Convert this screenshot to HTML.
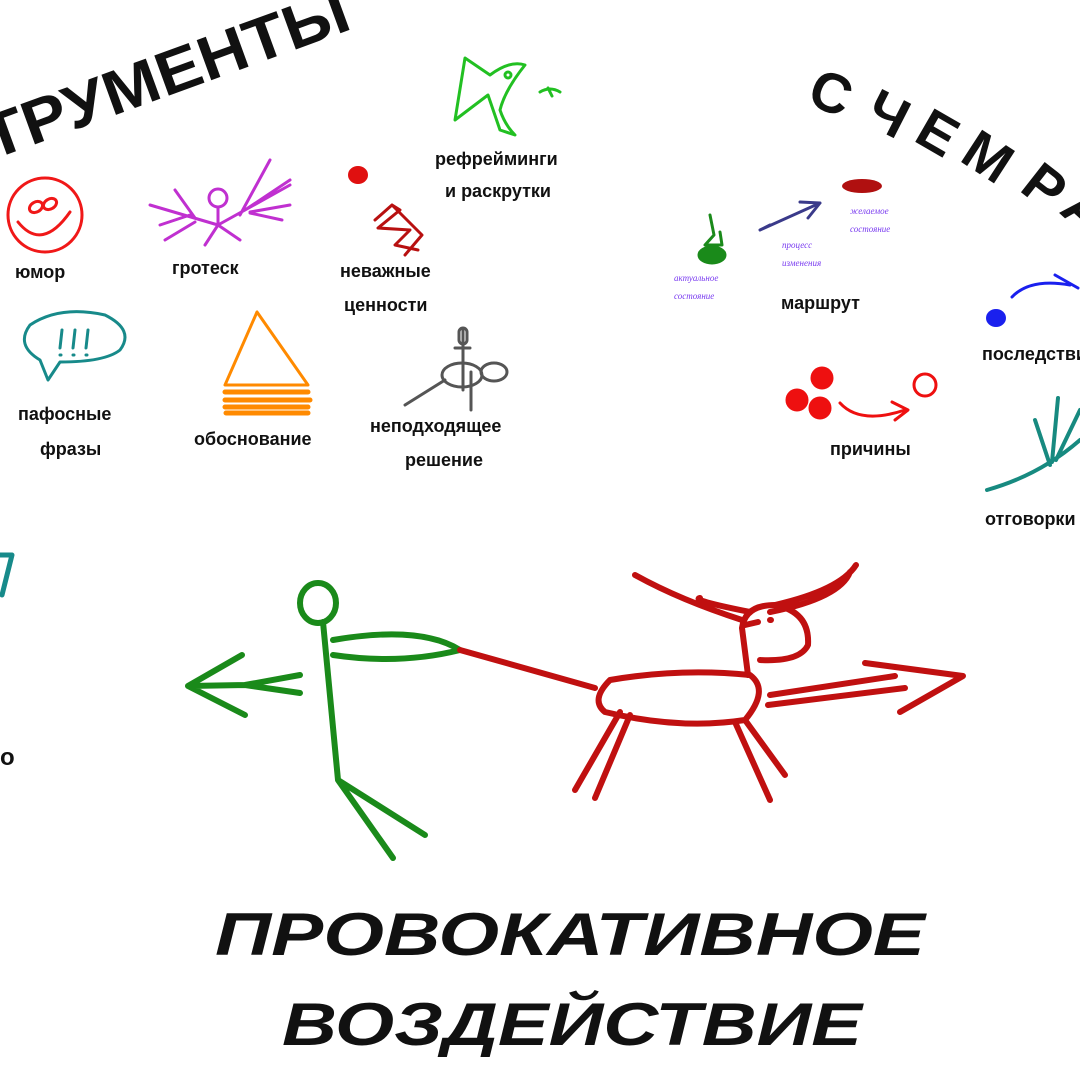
<!DOCTYPE html>
<html><head><meta charset="utf-8"><style>
html,body{margin:0;padding:0;background:#fff;}
svg{display:block}
text{font-family:"Liberation Sans","DejaVu Sans",sans-serif;font-weight:bold;fill:#111}
.l{font-size:18px}
.big{font-size:60px;font-style:italic;font-family:"Liberation Sans",sans-serif;font-weight:900}
.ttl{font-size:62px;font-weight:900}
.sm{font-size:9px;font-style:italic;fill:#7a3cf0;font-family:"Liberation Serif",serif;font-weight:normal}
</style></head><body>
<svg width="1080" height="1080" viewBox="0 0 1080 1080" xmlns="http://www.w3.org/2000/svg" fill="none" stroke-linecap="round" stroke-linejoin="round">
<text class="ttl" transform="translate(-8,160) rotate(-20)" textLength="385" lengthAdjust="spacingAndGlyphs">ТРУМЕНТЫ</text>
<g class="ttl" style="font-size:56px">
<text transform="translate(805,103) rotate(22)">С</text>
<text transform="translate(862,122) rotate(27)">Ч</text>
<text transform="translate(912,140) rotate(30)">Е</text>
<text transform="translate(958,160) rotate(33)">М</text>
<text transform="translate(1018,190) rotate(38)">Р</text>
<text transform="translate(1058,212) rotate(42)">А</text>
</g>
<g stroke="#f01818" stroke-width="3">
<circle cx="45" cy="215" r="37"/>
<ellipse cx="36" cy="207" rx="7" ry="5" transform="rotate(-30 36 207)"/>
<ellipse cx="50" cy="204" rx="7" ry="5" transform="rotate(-30 50 204)"/>
<path d="M18 222 Q42 252 70 212"/>
</g>
<text class="l" x="15" y="278">юмор</text>
<g stroke="#c030d0" stroke-width="3">
<circle cx="218" cy="198" r="9"/>
<path d="M218 207 V225 M150 205 L218 225 L290 185 M160 225 L190 215 M175 190 L195 218 M165 240 L195 222 M270 160 L240 215 M290 180 L245 210 M290 205 L250 212 M282 220 L250 213 M218 225 L205 245 M218 225 L240 240"/>
</g>
<text class="l" x="172" y="274">гротеск</text>
<g stroke="#e01010" stroke-width="4"><ellipse cx="358" cy="175" rx="8" ry="7" fill="#e01010"/></g>
<g stroke="#b81010" stroke-width="3"><path d="M375 220 L392 205 L400 210 L378 228 L410 230 L395 245 L418 250 M392 205 L422 235 L405 255"/></g>
<text class="l" x="340" y="277">неважные</text>
<text class="l" x="344" y="311">ценности</text>
<g stroke="#22c022" stroke-width="3">
<path d="M455 120 L465 58 L490 75 Q510 60 525 65 Q505 90 500 110 Q505 125 515 135 L500 130 L488 95 Z"/>
<circle cx="508" cy="75" r="3"/>
<path d="M540 92 Q550 86 560 92 M548 88 L552 96"/>
</g>
<text class="l" x="435" y="165">рефрейминги</text>
<text class="l" x="445" y="197">и раскрутки</text>
<g stroke="#178a8a" stroke-width="3">
<path d="M40 360 Q15 345 30 325 Q60 305 105 315 Q135 330 120 350 Q105 362 60 362 L48 380 Z"/>
<path d="M62 330 L60 348 M75 330 L73 348 M88 330 L86 348"/><path d="M60 355h1M73 355h1M86 355h1"/>
</g>
<text class="l" x="18" y="420">пафосные</text>
<text class="l" x="40" y="455">фразы</text>
<g stroke="#ff8a00" stroke-width="3"><path d="M257 312 L225 385 L308 385 Z"/></g>
<g stroke="#ff8a00" stroke-width="5"><path d="M225 392 H308 M225 400 H310 M225 407 H308 M226 413 H308"/></g>
<text class="l" x="194" y="445">обоснование</text>
<g stroke="#555" stroke-width="3">
<ellipse cx="462" cy="375" rx="20" ry="12"/><ellipse cx="494" cy="372" rx="13" ry="9"/>
<path d="M463 330 V390 M455 348 H470 M445 380 L405 405 M471 372 V410"/>
<rect x="459" y="328" width="8" height="16" rx="4"/>
</g>
<text class="l" x="370" y="432">неподходящее</text>
<text class="l" x="405" y="466">решение</text>
<g stroke="#1a8a1a" stroke-width="3">
<path d="M710 215 L714 235 L705 245 L722 245 L720 232"/>
<ellipse cx="712" cy="255" rx="13" ry="8" fill="#1a8a1a"/>
</g>
<g stroke="#3a3a8a" stroke-width="3"><path d="M760 230 L820 203 M800 202 L820 203 L808 218 M760 230 L770 225"/></g>
<ellipse cx="862" cy="186" rx="20" ry="7" fill="#b01010"/>
<text class="sm" x="674" y="281">актуальное</text><text class="sm" x="674" y="299">состояние</text>
<text class="sm" x="782" y="248">процесс</text><text class="sm" x="782" y="266">изменения</text>
<text class="sm" x="850" y="214">желаемое</text><text class="sm" x="850" y="232">состояние</text>
<text class="l" x="781" y="309">маршрут</text>
<g stroke="#ee1010" stroke-width="3" fill="#ee1010">
<circle cx="822" cy="378" r="10"/><circle cx="797" cy="400" r="10"/><circle cx="820" cy="408" r="10"/>
</g>
<g stroke="#ee1010" stroke-width="3"><circle cx="925" cy="385" r="11"/><path d="M840 403 Q860 425 905 410 M892 402 L908 410 L895 420"/></g>
<text class="l" x="830" y="455">причины</text>
<ellipse cx="996" cy="318" rx="10" ry="9" fill="#1a20ee"/>
<g stroke="#1a20ee" stroke-width="3"><path d="M1012 297 Q1030 278 1070 285 M1055 275 L1078 288"/></g>
<text class="l" x="982" y="360">последствия</text>
<g stroke="#178a80" stroke-width="4"><path d="M987 490 Q1040 475 1080 440 M1050 465 L1035 420 M1052 462 L1058 398 M1056 460 L1080 410"/></g>
<text class="l" x="985" y="525">отговорки</text>
<g stroke="#178a8a" stroke-width="5"><path d="M0 555 L12 555 L2 595"/></g>
<text class="l" style="font-size:24px" x="0" y="765">о</text>
<g stroke="#1a8a1a" stroke-width="6">
<ellipse cx="318" cy="603" rx="18" ry="20"/>
<path d="M323 622 L338 780 L393 858 M338 780 L425 835 M333 640 Q420 625 460 650 Q400 665 333 655"/>
<path d="M300 675 L245 685 L300 693 M245 685 L188 686 L242 655 M188 686 L245 715"/>
</g>
<g stroke="#c01010" stroke-width="6">
<path d="M460 650 L595 688"/>
<path d="M610 680 Q590 700 605 712 Q680 730 745 720 Q770 690 750 675 Q680 668 610 680"/>
<path d="M620 712 L575 790 M630 715 L595 798 M735 722 L770 800 M745 720 L785 775"/>
<path d="M748 675 L742 628 Q745 605 775 605 Q810 612 808 645 Q800 662 760 660"/>
<path d="M742 620 Q680 600 635 575 M750 612 Q690 600 700 598 M775 605 Q840 590 856 565 M770 612 Q840 598 850 572"/>
<path d="M770 620 h1 M745 625 L758 622"/>
<path d="M770 695 L895 676 M768 705 L905 688 M865 663 L963 676 L900 712"/>
</g>
<text class="big" x="215" y="955" textLength="710" lengthAdjust="spacingAndGlyphs">ПРОВОКАТИВНОЕ</text>
<text class="big" x="282" y="1045" textLength="580" lengthAdjust="spacingAndGlyphs">ВОЗДЕЙСТВИЕ</text>
</svg>
</body></html>
